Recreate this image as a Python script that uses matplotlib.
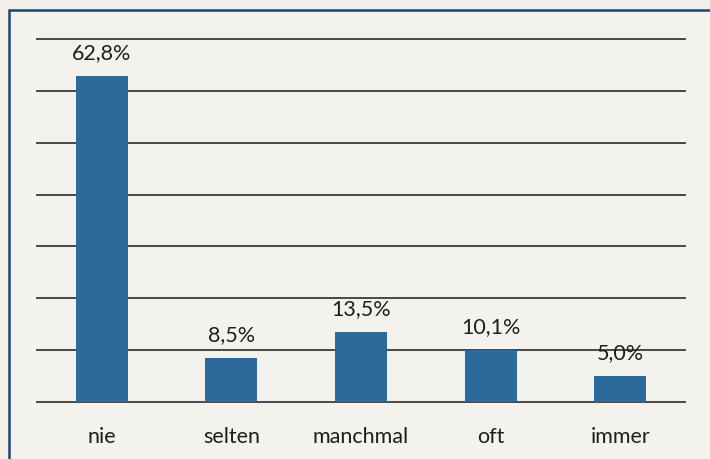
import matplotlib
matplotlib.use("Agg")
import matplotlib.pyplot as plt
from matplotlib.patches import Rectangle

categories = ["nie", "selten", "manchmal", "oft", "immer"]
values = [62.8, 8.5, 13.5, 10.1, 5.0]
value_labels = ["62,8%", "8,5%", "13,5%", "10,1%", "5,0%"]
grid_values = [0, 10, 20, 30, 40, 50, 60, 70]

plt.rcParams['font.family'] = ['Lato', 'DejaVu Sans']

fig = plt.figure(figsize=(7.1, 4.6), dpi=100, facecolor="#f2efe7")
fig.patches.append(Rectangle((9/710, -0.02), 1.0, (460-11)/460 + 0.02,
                             transform=fig.transFigure, facecolor="#f4f2ec",
                             edgecolor="#1f4470", linewidth=1.8, zorder=-10))

ax = fig.add_axes([37/710, (460-403)/460, 648/710, 363/460])
ax.set_zorder(5)
ax.set_facecolor("none")
x = range(len(categories))
ax.bar(x, values, width=0.4, color="#2b6a9a", zorder=3)
for g in grid_values:
    ax.axhline(g, color="#3a3a3a", linewidth=1.3, zorder=2, clip_on=False)
for i, (v, lab) in enumerate(zip(values, value_labels)):
    ax.text(i, v + 4.6, lab, ha="center", va="center", fontsize=15.5, color="#1e1e1e")
ax.set_xlim(-0.5, 4.5)
ax.set_ylim(0, 70)
ax.set_xticks(list(x))
ax.set_xticklabels(categories, fontsize=15.5, color="#1e1e1e")
ax.tick_params(axis="x", length=0, pad=17)
ax.set_yticks([])
for s in ax.spines.values():
    s.set_visible(False)

fig.savefig("out.png", dpi=100, facecolor=fig.get_facecolor())
